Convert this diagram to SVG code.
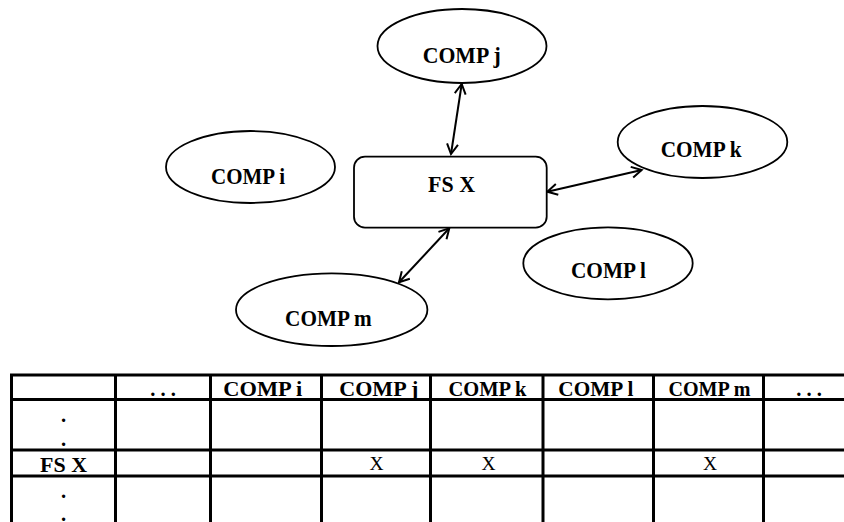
<svg xmlns="http://www.w3.org/2000/svg" width="844" height="522" viewBox="0 0 844 522">
<style>
.node{fill:#fff;stroke:#000;stroke-width:1.8}
.lbl{font-family:"Liberation Serif","Times New Roman",serif;font-weight:bold;font-size:23px;fill:#000;text-anchor:middle}
.hd{font-family:"Liberation Serif","Times New Roman",serif;font-weight:bold;font-size:20.5px;fill:#000;text-anchor:middle}
.cell{font-family:"Liberation Serif","Times New Roman",serif;font-size:19.5px;fill:#000;text-anchor:middle}
.conn{stroke:#000;stroke-width:2;fill:none;marker-start:url(#ah);marker-end:url(#ah)}
.grid{stroke:#000;stroke-width:3;fill:none}
</style>
<defs>
<marker id="ah" markerUnits="userSpaceOnUse" viewBox="0 0 13 13" markerWidth="13" markerHeight="13" refX="11" refY="6.5" orient="auto-start-reverse">
<path d="M1,1 L11,6.5 L1,12" fill="none" stroke="#000" stroke-width="2"/>
</marker>
</defs>
<rect width="844" height="522" fill="#fff"/>
<g id="connectors">
<line class="conn" x1="461.7" y1="84" x2="451" y2="154"/>
<line class="conn" x1="547.3" y1="191.7" x2="641.7" y2="170"/>
<line class="conn" x1="449.3" y1="228.3" x2="399" y2="282.3"/>
</g>
<g id="comp_j">
<ellipse class="node" cx="462" cy="46" rx="84.5" ry="37"/>
<text class="lbl" x="461.7" y="62.7" textLength="78" lengthAdjust="spacingAndGlyphs">COMP j</text>
</g>
<g id="comp_i">
<ellipse class="node" cx="250.5" cy="167" rx="84.5" ry="36"/>
<text class="lbl" x="248" y="184.3" textLength="74" lengthAdjust="spacingAndGlyphs">COMP i</text>
</g>
<g id="fs_x">
<rect class="node" x="354" y="156.7" width="192.7" height="71" rx="11" ry="11"/>
<text class="lbl" x="451.5" y="192.3" textLength="47" lengthAdjust="spacingAndGlyphs">FS X</text>
</g>
<g id="comp_k">
<ellipse class="node" cx="702.5" cy="142" rx="84.8" ry="36"/>
<text class="lbl" x="701.2" y="157.3" textLength="81" lengthAdjust="spacingAndGlyphs">COMP k</text>
</g>
<g id="comp_l">
<ellipse class="node" cx="608" cy="263.3" rx="84.7" ry="36"/>
<text class="lbl" x="608.5" y="278.3" textLength="75" lengthAdjust="spacingAndGlyphs">COMP l</text>
</g>
<g id="comp_m">
<ellipse class="node" cx="331.7" cy="309.7" rx="95.7" ry="36.3"/>
<text class="lbl" x="328.4" y="326" textLength="86.7" lengthAdjust="spacingAndGlyphs">COMP m</text>
</g>
<g id="table">
<path class="grid" d="M11.5,375 H844 M11.5,399.5 H844 M11.5,450 H844 M11.5,476 H844 M11.5,373.5 V522 M115.5,373.5 V522 M210.5,373.5 V522 M321.5,373.5 V522 M430.5,373.5 V522 M543,373.5 V522 M653.5,373.5 V522 M763.5,373.5 V522"/>
<text class="hd" x="163" y="396">. . .</text>
<text class="hd" x="262.8" y="396" textLength="79" lengthAdjust="spacingAndGlyphs">COMP i</text>
<text class="hd" x="378.8" y="396" textLength="79" lengthAdjust="spacingAndGlyphs">COMP j</text>
<text class="hd" x="487.5" y="396" textLength="78" lengthAdjust="spacingAndGlyphs">COMP k</text>
<text class="hd" x="595.8" y="396" textLength="75" lengthAdjust="spacingAndGlyphs">COMP l</text>
<text class="hd" x="709.5" y="396" textLength="82" lengthAdjust="spacingAndGlyphs">COMP m</text>
<text class="hd" x="809" y="396">. . .</text>
<text class="hd" x="63.5" y="422">.</text>
<text class="hd" x="63.5" y="446">.</text>
<text class="hd" x="63.5" y="471.5" textLength="47" lengthAdjust="spacingAndGlyphs">FS X</text>
<text class="hd" x="63.5" y="498">.</text>
<text class="hd" x="63.5" y="520.5">.</text>
<text class="cell" x="376.5" y="469.5">X</text>
<text class="cell" x="488.5" y="469.5">X</text>
<text class="cell" x="710" y="469.5">X</text>
</g>
</svg>
